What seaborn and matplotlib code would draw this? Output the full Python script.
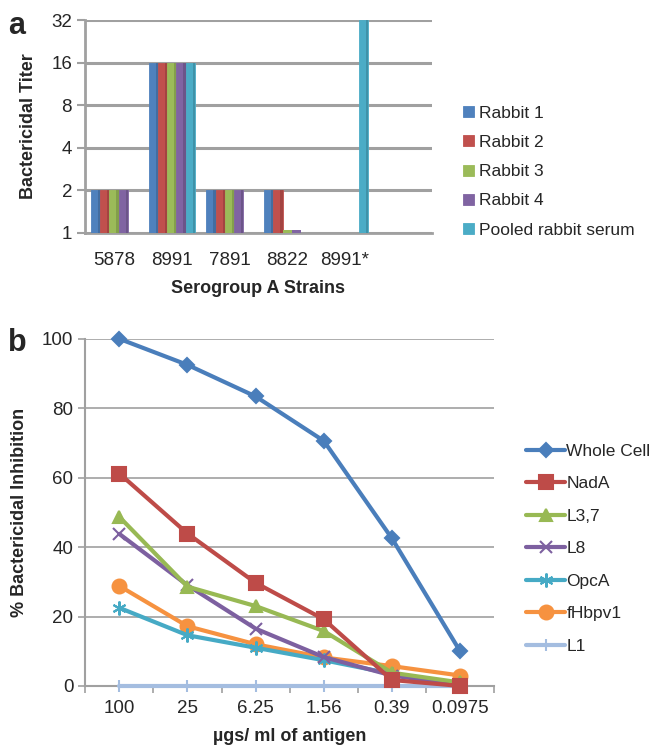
import numpy as np
import pandas as pd
import seaborn as sns
import matplotlib.pyplot as plt
from matplotlib.patches import Rectangle
from matplotlib.ticker import FixedLocator, NullFormatter

# panel a data
strains = ['5878', '8991', '7891', '8822', '8991*']
rabbit1 = [2, 16, 2, 2, np.nan]
rabbit2 = [2, 16, 2, 2, np.nan]
rabbit3 = [2, 16, 2, 1, np.nan]
rabbit4 = [2, 16, 2, 1, np.nan]
pooled = [np.nan, 16, np.nan, np.nan, 32]
sera = ['Rabbit 1', 'Rabbit 2', 'Rabbit 3', 'Rabbit 4', 'Pooled rabbit serum']
bar_colors = ['#4F81BD', '#C0504D', '#9BBB59', '#8064A2', '#4BACC6']

# panel b data
doses = ['100', '25', '6.25', '1.56', '0.39', '0.0975']
whole_cell = [100, 92.5, 83.4, 70.6, 42.5, 10]
nada = [61.2, 43.9, 29.7, 19.2, 1.7, 0]
l37 = [48.7, 28.6, 23, 15.8, 3.8, 1]
l8 = [43.8, 29, 16.5, 8.3, 3, 0.3]
opca = [22.5, 14.6, 11, 7.4, 3.5, 0.4]
fhbp = [28.8, 17.2, 12, 8.2, 5.7, 3]
l1 = [0, 0, 0, 0, 0, 0]
antigens = ['Whole Cell', 'NadA', 'L3,7', 'L8', 'OpcA', 'fHbpv1', 'L1']
line_colors = ['#4A7EBB', '#BE4B48', '#98B954', '#7D60A0', '#46AAC5', '#F69240', '#A4BDE0']
markers = ['D', 's', '^', 'x', (6, 2, 0), 'o', '|']
msizes = [7, 10, 9, 9, 10, 10, 9]

sns.set_theme(style='white')
plt.rcParams['font.family'] = ['Liberation Sans', 'DejaVu Sans']

fig = plt.figure(figsize=(6.66, 7.48), dpi=100)
grid_c = '#A0A0A0'

# ---------- panel a ----------
ax1 = fig.add_axes([0.128, 0.689, 0.52, 0.284])
df_a = pd.DataFrame({'strain': np.repeat(strains, len(sera)),
                     'serum': sera * len(strains),
                     'titer': np.array([rabbit1, rabbit2, rabbit3, rabbit4, pooled]).T.ravel()})
sns.barplot(data=df_a, x='strain', y='titer', hue='serum', order=strains, hue_order=sera,
            palette=bar_colors, width=0.8, saturation=1, errorbar=None, ax=ax1,
            linewidth=0, legend=True, zorder=3)
ax1.set_yscale('log', base=2)
ax1.set_ylim(1, 32)
ax1.set_xlim(-0.5, 5.5)
# darker side strip for the pseudo-3D look, thin slab for bars at the floor
for p in list(ax1.patches):
    h = p.get_height()
    if np.isnan(h):
        continue
    p.set_edgecolor(p.get_facecolor())
    p.set_linewidth(0.6)
    w = p.get_width()
    if h <= 1:
        ax1.add_patch(Rectangle((p.get_x(), 1), w, 0.04, color=p.get_facecolor(),
                                lw=0, zorder=4, clip_on=False))
        continue
    ax1.add_patch(Rectangle((p.get_x() + w * 0.75, 1), w * 0.25, h - 1,
                            color='black', alpha=0.15, lw=0, zorder=4))
ax1.set_yticks([1, 2, 4, 8, 16, 32])
ax1.set_yticklabels(['1', '2', '4', '8', '16', '32'])
ax1.yaxis.set_minor_formatter(NullFormatter())
ax1.yaxis.set_minor_locator(FixedLocator([]))
ax1.xaxis.set_minor_locator(FixedLocator(np.arange(-0.5, 6, 1)))
ax1.tick_params(axis='x', which='major', length=0, labelsize=13.5, pad=14)
ax1.tick_params(axis='x', which='minor', length=6, width=1.5, color=grid_c, direction='out')
ax1.tick_params(axis='y', which='major', length=6, width=1.5, color=grid_c, labelsize=13.5, left=True)
ax1.yaxis.grid(True, color=grid_c, lw=2.2, zorder=0)
for s in ['top', 'right']:
    ax1.spines[s].set_visible(False)
for s in ['left', 'bottom']:
    ax1.spines[s].set_color(grid_c)
    ax1.spines[s].set_linewidth(2)
ax1.set_xlabel('Serogroup A Strains', fontsize=13, fontweight='bold', labelpad=8)
ax1.set_ylabel('Bactericidal Titer', fontsize=13, fontweight='bold', labelpad=10)
h1, lab1 = ax1.get_legend_handles_labels()
ax1.legend(h1, lab1, loc='upper left', bbox_to_anchor=(0.685, 0.868), bbox_transform=fig.transFigure,
           frameon=False, fontsize=12.5, handlelength=0.6, handleheight=0.6, handletextpad=0.3,
           labelspacing=0.82, borderaxespad=0)
fig.text(0.012, 0.985, 'a', fontsize=22, fontweight='bold', va='top')

# ---------- panel b ----------
ax2 = fig.add_axes([0.128, 0.083, 0.614, 0.464])
series_b = [whole_cell, nada, l37, l8, opca, fhbp, l1]
pos = np.arange(len(doses))
order_draw = [6, 4, 5, 3, 2, 1, 0]
for i in order_draw:
    sns.lineplot(x=pos, y=series_b[i], color=line_colors[i], marker=markers[i], markersize=msizes[i],
                 markeredgecolor=line_colors[i], markeredgewidth=1.5, lw=3, label=antigens[i],
                 ax=ax2, zorder=3 + (6 - i), clip_on=False)
ax2.set_xlim(-0.5, 5.5)
ax2.set_ylim(0, 100)
ax2.set_xticks(pos)
ax2.set_xticklabels(doses)
ax2.set_yticks(range(0, 101, 20))
ax2.xaxis.set_minor_locator(FixedLocator(np.arange(-0.5, 6, 1)))
ax2.tick_params(axis='x', which='major', length=0, labelsize=13.5, pad=10)
ax2.tick_params(axis='x', which='minor', length=5, width=1.2, color=grid_c, direction='out', bottom=True)
ax2.tick_params(axis='y', which='major', length=5, width=1.2, color=grid_c, labelsize=13.5, left=True)
ax2.yaxis.grid(True, color=grid_c, lw=1.2, zorder=0)
for s in ['top', 'right']:
    ax2.spines[s].set_visible(False)
for s in ['left', 'bottom']:
    ax2.spines[s].set_color(grid_c)
    ax2.spines[s].set_linewidth(1.5)
ax2.set_xlabel('µgs/ ml of antigen', fontsize=13, fontweight='bold', labelpad=8)
ax2.set_ylabel('% Bactericidal Inhibition', fontsize=13, fontweight='bold', labelpad=10)
h2, lab2 = ax2.get_legend_handles_labels()
idx = [lab2.index(a) for a in antigens]
ax2.legend([h2[k] for k in idx], [lab2[k] for k in idx], loc='upper left',
           bbox_to_anchor=(0.78, 0.416), bbox_transform=fig.transFigure, frameon=False,
           fontsize=12.5, handlelength=2.2, handletextpad=0.1, labelspacing=1.0, borderaxespad=0)
fig.text(0.012, 0.562, 'b', fontsize=22, fontweight='bold', va='top')

fig.savefig('out.png', dpi=100)
